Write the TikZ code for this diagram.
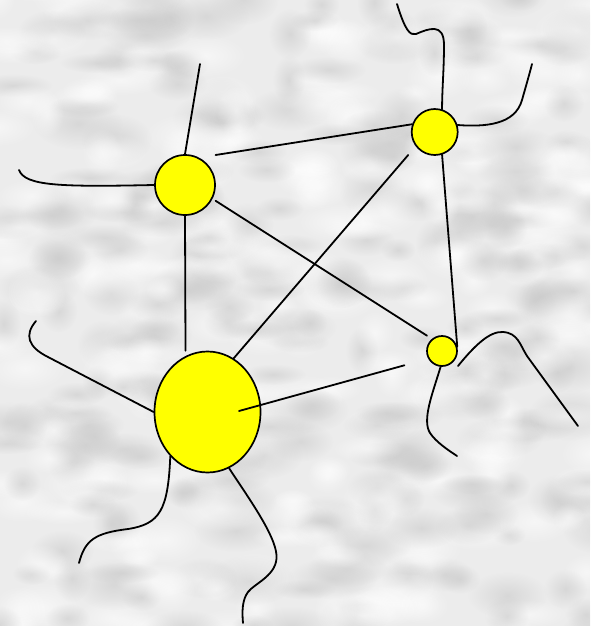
\documentclass[tikz,border=0pt]{standalone}
\usetikzlibrary{shapes.geometric,fadings}
\definecolor{nodeyellow}{RGB}{255,255,0}
\tikzfading[name=softblob, inner color=transparent!0, outer color=transparent!100]
\begin{document}
\begin{tikzpicture}[x=1pt,y=-1pt,
  nd/.style={draw=black, fill=nodeyellow, line width=1.7pt, inner sep=0pt},
  ln/.style={line width=1.8pt, line cap=round}]
\useasboundingbox (0,0) rectangle (590,626);
% textured background
\begin{scope}
\clip (0,0) rectangle (590,626);
\fill[gray!15] (0,0) rectangle (590,626);
\pgfmathsetseed{42}
\foreach \i in {1,...,480}{
  \pgfmathsetmacro{\bx}{rnd*610-10}
  \pgfmathsetmacro{\by}{rnd*646-10}
  \pgfmathsetmacro{\rx}{16+rnd*30}
  \pgfmathsetmacro{\ry}{10+rnd*16}
  \pgfmathsetmacro{\g}{rnd}
  \ifdim\g pt<0.5pt \def\bc{white}\else\def\bc{black!22}\fi
  \fill[\bc, fill opacity=0.55, path fading=softblob] (\bx,\by) ellipse [x radius=\rx, y radius=\ry];
}
\end{scope}
% nodes
\node[nd, circle, minimum size=60pt] (A) at (185,185) {};
\node[nd, circle, minimum size=46pt] (B) at (434.7,132) {};
\node[nd, circle, minimum size=30pt] (C) at (442,351) {};
\node[nd, ellipse, minimum width=106pt, minimum height=121pt] (D) at (207.5,412) {};
% free ends
\coordinate (a1) at (200,64);
\coordinate (a2) at (19,170);
\coordinate (b1) at (397,4);
\coordinate (b2) at (532,64);
\coordinate (c1s) at (458,366);
\coordinate (c1) at (578,426);
\coordinate (c2) at (457,456);
\coordinate (d1) at (36,321);
\coordinate (d2) at (79,563);
\coordinate (d3) at (243,623);
% connectors between nodes
\draw[ln] ([xshift=30.6pt,yshift=30pt]A.center) -- (B.161);
\draw[ln] ([xshift=30.6pt,yshift=-15.8pt]A.center) -- ([xshift=-15pt,yshift=15.3pt]C.center);
\draw[ln] (A.south) -- ([xshift=-22pt]D.north);
\draw[ln] ([xshift=-26.5pt,yshift=-23pt]B.center) -- (D.64);
\draw[ln] (B.-72) -- (C.16);
\draw[ln] ([xshift=31.5pt,yshift=1pt]D.center) -- ([xshift=-37.6pt,yshift=-14.3pt]C.center);
% free wavy lines
\draw[ln] (A.north) -- (a1);
\draw[ln] (A.west) .. controls (60,187) and (25,186) .. (a2);
\draw[ln] (B.72) .. controls (442,90) and (444,70) .. (444,45)
  .. controls (444,22) and (428,29) .. (416,34)
  .. controls (410,36) and (405,30) .. (b1);
\draw[ln] (B.17) .. controls (485,127) and (515,125) .. (522,100)
  .. controls (526,86) and (530,72) .. (b2);
\draw[ln] (c1s) .. controls (475,345) and (490,331) .. (503,332)
  .. controls (518,333) and (520,345) .. (527,356) -- (c1);
\draw[ln] (C.-95) .. controls (432,395) and (422,420) .. (430,433)
  .. controls (436,442) and (448,450) .. (c2);
\draw[ln] (D.west) -- (48,357) .. controls (28,347) and (24,335) .. (d1);
\draw[ln] (D.-130) .. controls (168,510) and (160,524) .. (128,529)
  .. controls (95,533) and (85,540) .. (d2);
\draw[ln] (D.-69) .. controls (250,500) and (275,535) .. (276.5,555)
  .. controls (278,575) and (255,583) .. (248,592)
  .. controls (242,600) and (242,612) .. (d3);
\end{tikzpicture}
\end{document}
